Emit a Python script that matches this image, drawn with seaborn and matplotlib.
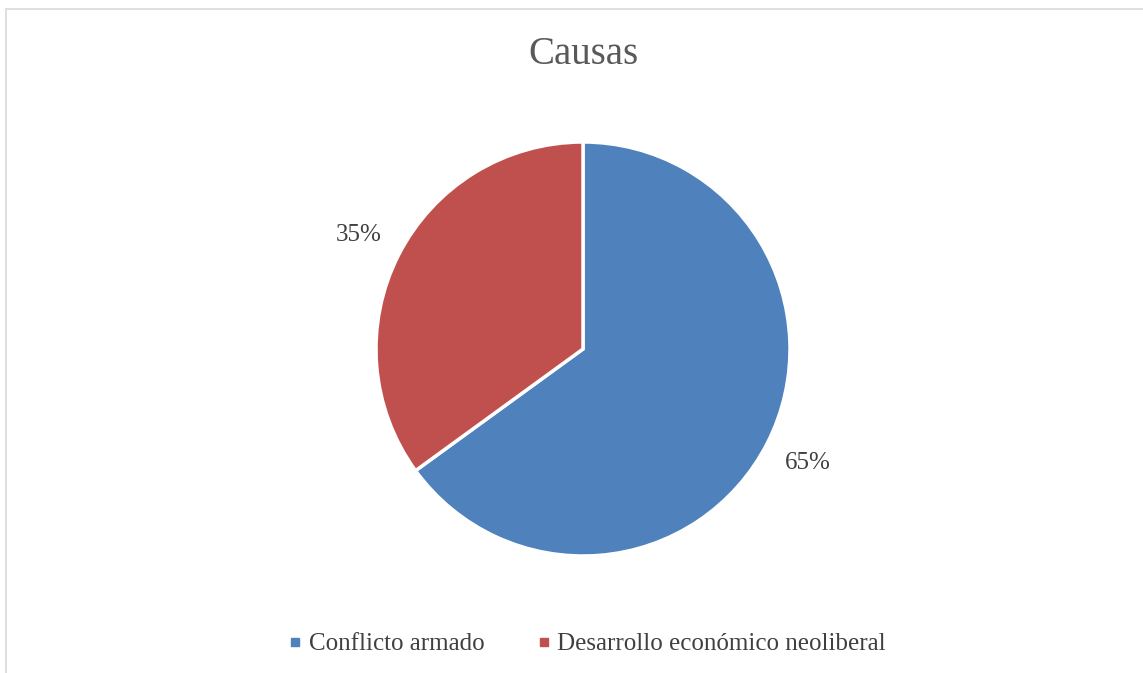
import matplotlib
matplotlib.use("Agg")
import matplotlib.pyplot as plt
import matplotlib.patches as mpatches
from matplotlib.lines import Line2D
import seaborn as sns

# datos del grafico
categorias = ["Conflicto armado", "Desarrollo económico neoliberal"]
porcentajes = [65, 35]
colores = ["#4F81BD", "#C0504D"]
titulo = "Causas"

sns.set_theme(style="white")
plt.rcParams["font.family"] = ["Liberation Serif", "DejaVu Serif"]

W, H = 1143, 673
fig = plt.figure(figsize=(W / 100, H / 100), dpi=100)

# borde gris del area del grafico
fig.patches.append(mpatches.Rectangle((6 / W, -0.1), 1.2, 1 - 9 / H + 0.1,
                                      transform=fig.transFigure, fill=False,
                                      edgecolor="#D9D9D9", linewidth=1.2))

# ejes del pastel
cx, cy, r = 583, 349, 207
ax = fig.add_axes([(cx - r) / W, (H - cy - r) / H, 2 * r / W, 2 * r / H])
ax.pie(porcentajes, colors=colores, startangle=90, counterclock=False,
       radius=1, autopct="%1.0f%%", pctdistance=1.218,
       wedgeprops=dict(edgecolor="white", linewidth=2.5),
       textprops=dict(fontsize=18, color="#404040"))
ax.set_xlim(-1, 1)
ax.set_ylim(-1, 1)
ax.set_aspect("equal")
ax.axis("off")

fig.text(583 / W, 1 - 54 / H, titulo, ha="center", va="center",
         fontsize=28, color="#595959")

handles = [Line2D([0], [0], marker="s", linestyle="", markersize=6,
                  markerfacecolor=c, markeredgecolor=c) for c in colores]
fig.legend(handles, categorias, loc="center", bbox_to_anchor=(585 / W, 1 - 644 / H),
           ncol=2, frameon=False, fontsize=18, labelcolor="#404040",
           handletextpad=0.1, columnspacing=1.9, handlelength=0.9)

fig.savefig("out.png", dpi=100)
